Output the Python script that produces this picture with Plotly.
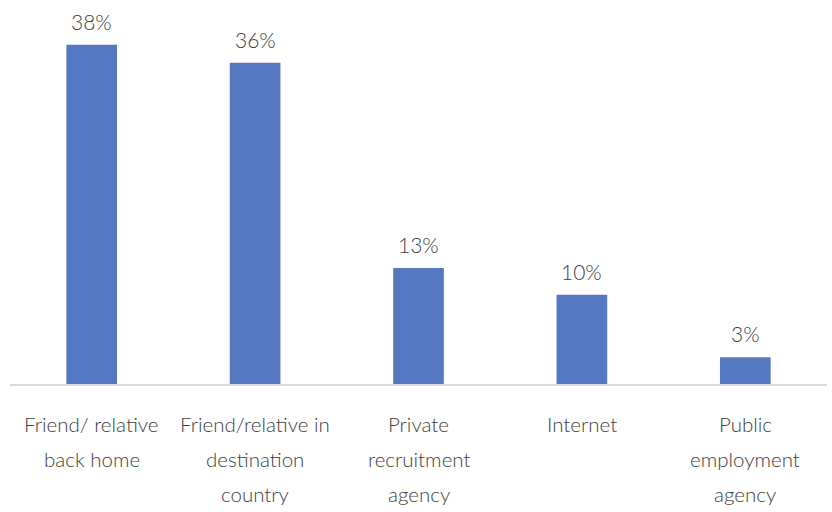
import plotly.graph_objects as go

# Sources of job information (share of respondents, %)
categories = [
    "Friend/ relative back home",
    "Friend/relative in destination country",
    "Private recruitment agency",
    "Internet",
    "Public employment agency",
]
tick_lines = [
    ["Friend/ relative", "back home"],
    ["Friend/relative in", "destination", "country"],
    ["Private", "recruitment", "agency"],
    ["Internet"],
    ["Public", "employment", "agency"],
]
values = [38, 36, 13, 10, 3]

FONT = "Lato, 'Open Sans', sans-serif"
TEXT_COLOR = "#404040"
BAR_COLOR = "#5677C1"

fig = go.Figure(
    go.Bar(
        x=categories,
        y=values,
        marker=dict(color=BAR_COLOR, line=dict(width=0)),
        width=0.31,
        hoverinfo="skip",
    )
)

annotations = []
# value labels above each bar
for cat, v in zip(categories, values):
    annotations.append(dict(
        x=cat, y=v, xref="x", yref="y",
        text=f"{v}%", showarrow=False,
        yanchor="bottom", yshift=9,
        font=dict(family=FONT, size=21, color=TEXT_COLOR, weight=300),
    ))
# multi-line category labels below the axis
for cat, lines in zip(categories, tick_lines):
    for i, line in enumerate(lines):
        annotations.append(dict(
            x=cat, y=0, xref="x", yref="paper",
            text=line, showarrow=False,
            yanchor="middle", yshift=-40 - 35 * i,
            font=dict(family=FONT, size=20.5, color=TEXT_COLOR, weight=300),
        ))

fig.update_layout(
    width=832, height=512,
    margin=dict(l=10, r=5, t=27, b=128),
    paper_bgcolor="white", plot_bgcolor="white",
    showlegend=False,
    annotations=annotations,
    xaxis=dict(
        showticklabels=False, showgrid=False, zeroline=False,
        showline=True, linecolor="#d9d9d9", linewidth=1.5,
        ticks="",
    ),
    yaxis=dict(
        range=[0, 40], visible=False, showgrid=False, zeroline=False,
    ),
)

fig.write_html("out.html")
